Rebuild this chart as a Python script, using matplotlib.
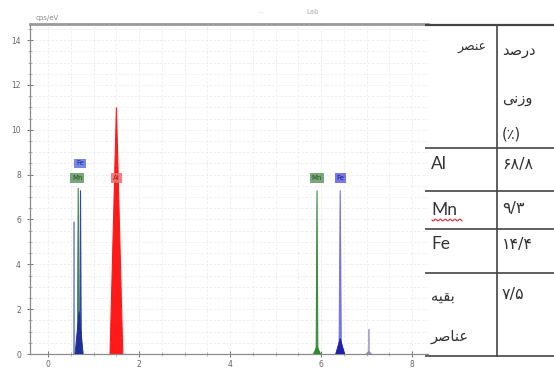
import numpy as np
import matplotlib
matplotlib.use("Agg")
import matplotlib.pyplot as plt
from matplotlib.ticker import MultipleLocator
from matplotlib import font_manager
from matplotlib.ft2font import FT2Font

# ---------------- data ----------------
peak_energy = [0.57, 0.66, 0.71, 1.50, 5.91, 6.42, 7.05]
peak_height = [5.9, 7.4, 7.3, 11.0, 7.3, 7.3, 1.1]
peak_width = [0.012, 0.018, 0.018, 0.14, 0.018, 0.025, 0.012]
peak_color = ['#8a9ad8', '#3f8a3f', '#3344b8', '#ff1a1a', '#3f8a3f', '#7474e6', '#a8a8cc']

base_energy = [0.68, 5.91, 6.42, 7.05]
base_height = [1.9, 0.35, 0.7, 0.12]
base_width = [0.09, 0.08, 0.1, 0.06]
base_color = ['#1f2f95', '#2a8a2a', '#2020a8', '#9090b0']

label_text = ['Fe', 'Mn', 'Al', 'Mn', 'Fe']
label_energy = [0.70, 0.64, 1.50, 5.91, 6.42]
label_level = [8.5, 7.85, 7.85, 7.85, 7.85]
label_face = ['#6b7be0', '#6c9c6c', '#f07070', '#6c9c6c', '#6b6be0']
label_ink = ['#1a2a9a', '#234f23', '#b01010', '#234f23', '#1a1a9a']

x_ticks = [0, 2, 4, 6, 8]
y_ticks = [0, 2, 4, 6, 8, 10, 12, 14]

table_head_element = 'عنصر'
table_head_value = ['درصد', 'وزنی', '(٪)']
table_elements = ['Al', 'Mn', 'Fe', 'بقیه', 'عناصر']
table_values = ['۶۸/۸', '۹/۳', '۱۴/۴', '۷/۵']

# ------------- minimal Arabic shaping (visual order) -------------
dv = FT2Font(font_manager.findfont('DejaVu Sans'))
cmap = dv.get_charmap()

FORMS = {
    'ع': (0xFEC9, 0xFECA, 0xFECB, 0xFECC),
    'ن': (0xFEE5, 0xFEE6, 0xFEE7, 0xFEE8),
    'ص': (0xFEB9, 0xFEBA, 0xFEBB, 0xFEBC),
    'ر': (0xFEAD, 0xFEAE, None, None),
    'د': (0xFEA9, 0xFEAA, None, None),
    'و': (0xFEED, 0xFEEE, None, None),
    'ز': (0xFEAF, 0xFEB0, None, None),
    'ی': (0xFBFC, 0xFBFD, 0xFBFE, 0xFBFF),
    'ب': (0xFE8F, 0xFE90, 0xFE91, 0xFE92),
    'ق': (0xFED5, 0xFED6, 0xFED7, 0xFED8),
    'ه': (0xFEE9, 0xFEEA, 0xFEEB, 0xFEEC),
    'ا': (0xFE8D, 0xFE8E, None, None),
}
YEH_FALLBACK = (0xFEEF, 0xFEF0, 0xFEF3, 0xFEF4)


def shape(word):
    if not any(ch in FORMS for ch in word):
        return word
    out = []
    n = len(word)
    for i, ch in enumerate(word):
        if ch not in FORMS:
            out.append(ch)
            continue
        f = FORMS[ch]
        prev = word[i - 1] if i > 0 else None
        nxt = word[i + 1] if i < n - 1 else None
        join_prev = prev in FORMS and FORMS[prev][2] is not None
        join_next = nxt in FORMS and f[2] is not None
        if join_prev and join_next:
            k = 3
        elif join_prev:
            k = 1
        elif join_next:
            k = 2
        else:
            k = 0
        code = f[k]
        if code not in cmap and ch == 'ی':
            code = YEH_FALLBACK[k]
        out.append(chr(code))
    return ''.join(reversed(out))

# ---------------- figure ----------------
W, H = 554, 372
fig = plt.figure(figsize=(W / 100, H / 100), dpi=100)
ax = fig.add_axes([30 / W, 18 / H, 398 / W, 330 / H])
ax.set_xlim(-0.40, 8.35)
ax.set_ylim(0, 14.72)

for e, h, w, c in zip(base_energy, base_height, base_width, base_color):
    ax.fill([e - w, e, e + w], [0, h, 0], color=c, lw=0.6, zorder=3)
for e, h, w, c in zip(peak_energy, peak_height, peak_width, peak_color):
    ax.fill([e - w, e, e + w], [0, h, 0], color=c, ec=c, lw=0.8, zorder=2)

for t, e, lv, fc, ic in zip(label_text, label_energy, label_level, label_face, label_ink):
    ax.text(e, lv, t, ha='center', va='center', fontsize=5, color=ic, zorder=5,
            bbox=dict(boxstyle='square,pad=0.25', fc=fc, ec='none', alpha=0.9))

ax.set_xticks(x_ticks)
ax.set_yticks(y_ticks)
ax.xaxis.set_minor_locator(MultipleLocator(0.5))
ax.yaxis.set_minor_locator(MultipleLocator(0.5))
ax.tick_params(which='major', direction='inout', length=5, width=0.7, color='#777',
               labelsize=5.5, labelcolor='#666')
ax.tick_params(which='minor', direction='inout', length=3, width=0.5, color='#999')
ax.tick_params(axis='x', pad=2)
ax.tick_params(axis='y', pad=4)
ax.grid(which='both', color='#ececec', linestyle=(0, (3, 2)), linewidth=0.6, zorder=0)
ax.set_axisbelow(True)
ax.spines['right'].set_visible(False)
ax.spines['top'].set_color('#9a9a9a')
ax.spines['top'].set_linewidth(2.0)
for s in ['left', 'bottom']:
    ax.spines[s].set_color('#8a8a8a')
    ax.spines[s].set_linewidth(0.9)

fig.text(36 / W, 1 - 18 / H, 'cps/eV', fontsize=5, color='#888', va='center')
fig.text(258 / W, 1 - 13 / H, '—', fontsize=4, color='#ccc', va='center')
fig.text(313 / W, 1 - 12 / H, 'Lab', fontsize=5, color='#aaa', va='center', ha='center')

# ---------------- table ----------------
tax = fig.add_axes([0, 0, 1, 1], facecolor='none')
tax.set_xlim(0, W)
tax.set_ylim(H, 0)
tax.axis('off')

row_lines = [25, 148, 191, 229, 273, 356]
for y in row_lines:
    tax.plot([425, W], [y, y], color='#444', lw=1.2 if y != 25 else 1.6, solid_capstyle='butt')
tax.plot([497, 497], [25, 356], color='#444', lw=1.2)

pfont = ['DejaVu Sans']
tax.text(487, 48, shape(table_head_element), ha='right', va='center', fontsize=9,
         color='#333', family=pfont)
for t, y in zip(table_head_value, [50, 98, 134]):
    tax.text(502, y, shape(t), ha='left', va='center', fontsize=10.5, color='#333', family=pfont)

elem_y = [164, 210, 244, 296, 337]
for t, y in zip(table_elements, elem_y):
    if t.isascii():
        tax.text(431, y, t, ha='left', va='center', fontsize=12.5, color='#333',
                 family=['Lato', 'DejaVu Sans'])
    else:
        tax.text(431, y, shape(t), ha='left', va='center', fontsize=10.5, color='#333',
                 family=pfont)

val_y = [164, 209, 244, 294]
for t, y in zip(table_values, val_y):
    tax.text(502, y, t, ha='left', va='center', fontsize=11.5, color='#333', family=pfont)

# spell-check squiggle under "Mn"
sx = np.linspace(432, 462, 80)
tax.plot(sx, 220 + 0.9 * np.sin((sx - 432) * 1.3), color='#e0283c', lw=0.8)

fig.savefig('out.png', dpi=100)
